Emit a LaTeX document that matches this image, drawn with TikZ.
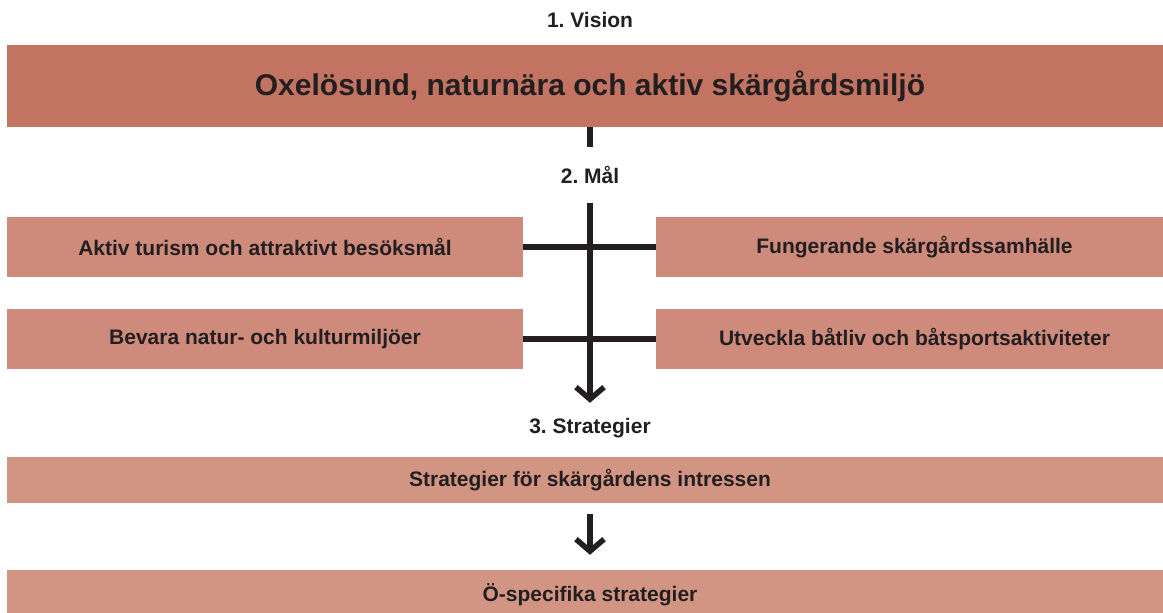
\documentclass[tikz,border=0pt]{standalone}
\usepackage{fontspec}
\setmainfont{Liberation Sans}
\usepackage{tikz}
\usetikzlibrary{arrows.meta}
\definecolor{visionred}{HTML}{C27362}
\definecolor{goalred}{HTML}{CE8A7A}
\definecolor{stratred}{HTML}{D39583}
\definecolor{ink}{HTML}{231F20}
\frenchspacing

\begin{document}
\begin{tikzpicture}[x=1pt,y=-1pt,
    box/.style={inner sep=0pt, text=ink, font=\bfseries\fontsize{21}{24}\selectfont},
    head/.style={inner sep=0pt, text=ink, minimum width=120pt, font=\bfseries\fontsize{21}{24}\selectfont},
    bar/.style={draw=ink, line width=5.5pt},
    pil/.style={bar, -{Straight Barb[length=12pt,width=28pt]}}]
    \useasboundingbox[fill=white] (0,0) rectangle (1163,613);

    \node[head, minimum height=30pt] (v) at (590,20) {1. Vision};
    \node[box, fill=visionred, minimum width=1166pt, minimum height=82pt,
          font=\bfseries\fontsize{30}{34}\selectfont] (vision) at (590,86)
          {Oxelösund, naturnära och aktiv skärgårdsmiljö};

    \node[head, minimum height=55pt] (mal) at (590,175) {2. Mål};
    \node[box, fill=goalred, minimum width=516pt, minimum height=60pt] (m1) at (265,247)
          {Aktiv turism och attraktivt besöksmål};
    \node[box, fill=goalred, minimum width=517pt, minimum height=60pt] (m2) at (914.5,247)
          {Fungerande skärgårdssamhälle};
    \node[box, fill=goalred, minimum width=516pt, minimum height=60pt] (m3) at (265,339)
          {Bevara natur- och kulturmiljöer};
    \node[box, fill=goalred, minimum width=517pt, minimum height=60pt] (m4) at (914.5,339)
          {Utveckla båtliv och båtsportsaktiviteter};

    \node[head, minimum height=50pt] (strat) at (590,428) {3. Strategier};
    \node[box, fill=stratred, minimum width=1166pt, minimum height=46pt] (s1) at (590,480)
          {Strategier för skärgårdens intressen};
    \node[box, fill=stratred, minimum width=1166pt, minimum height=50pt] (s2) at (590,595)
          {Ö-specifika strategier};

    \draw[bar] (vision.south) -- (mal.north);
    \draw[bar] (m1.east) -- (m2.west)
               (m3.east) -- (m4.west);
    \draw[pil] (mal.south) -- (strat.north);
    \draw[pil, shorten <=11pt, shorten >=15pt] (s1.south) -- (s2.north);
\end{tikzpicture}
\end{document}
